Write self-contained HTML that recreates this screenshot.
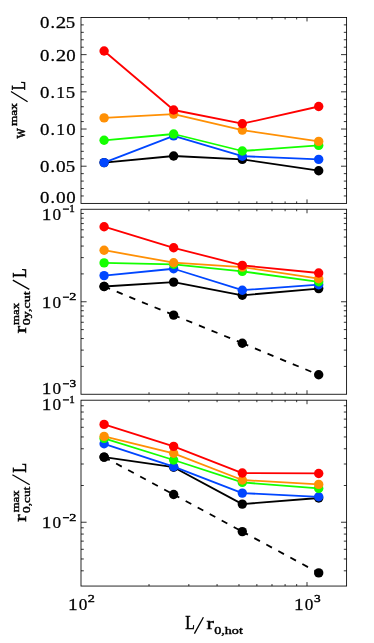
<!DOCTYPE html>
<html><head><meta charset="utf-8"><title>chart</title>
<style>html,body{margin:0;padding:0;background:#fff;}svg{display:block;}</style>
</head><body>
<svg width="374" height="643" viewBox="0 0 374 643">
<rect width="374" height="643" fill="#fff"/>
<g id="ticks">
<line x1="81.00" y1="54.64" x2="86.60" y2="54.64" stroke="#000" stroke-width="0.8"/>
<line x1="346.60" y1="54.64" x2="341.00" y2="54.64" stroke="#000" stroke-width="0.8"/>
<line x1="81.00" y1="91.83" x2="86.60" y2="91.83" stroke="#000" stroke-width="0.8"/>
<line x1="346.60" y1="91.83" x2="341.00" y2="91.83" stroke="#000" stroke-width="0.8"/>
<line x1="81.00" y1="129.02" x2="86.60" y2="129.02" stroke="#000" stroke-width="0.8"/>
<line x1="346.60" y1="129.02" x2="341.00" y2="129.02" stroke="#000" stroke-width="0.8"/>
<line x1="81.00" y1="166.21" x2="86.60" y2="166.21" stroke="#000" stroke-width="0.8"/>
<line x1="346.60" y1="166.21" x2="341.00" y2="166.21" stroke="#000" stroke-width="0.8"/>
<line x1="81.00" y1="24.89" x2="83.80" y2="24.89" stroke="#000" stroke-width="0.8"/>
<line x1="346.60" y1="24.89" x2="343.80" y2="24.89" stroke="#000" stroke-width="0.8"/>
<line x1="81.00" y1="32.33" x2="83.80" y2="32.33" stroke="#000" stroke-width="0.8"/>
<line x1="346.60" y1="32.33" x2="343.80" y2="32.33" stroke="#000" stroke-width="0.8"/>
<line x1="81.00" y1="39.76" x2="83.80" y2="39.76" stroke="#000" stroke-width="0.8"/>
<line x1="346.60" y1="39.76" x2="343.80" y2="39.76" stroke="#000" stroke-width="0.8"/>
<line x1="81.00" y1="47.20" x2="83.80" y2="47.20" stroke="#000" stroke-width="0.8"/>
<line x1="346.60" y1="47.20" x2="343.80" y2="47.20" stroke="#000" stroke-width="0.8"/>
<line x1="81.00" y1="62.08" x2="83.80" y2="62.08" stroke="#000" stroke-width="0.8"/>
<line x1="346.60" y1="62.08" x2="343.80" y2="62.08" stroke="#000" stroke-width="0.8"/>
<line x1="81.00" y1="69.52" x2="83.80" y2="69.52" stroke="#000" stroke-width="0.8"/>
<line x1="346.60" y1="69.52" x2="343.80" y2="69.52" stroke="#000" stroke-width="0.8"/>
<line x1="81.00" y1="76.95" x2="83.80" y2="76.95" stroke="#000" stroke-width="0.8"/>
<line x1="346.60" y1="76.95" x2="343.80" y2="76.95" stroke="#000" stroke-width="0.8"/>
<line x1="81.00" y1="84.39" x2="83.80" y2="84.39" stroke="#000" stroke-width="0.8"/>
<line x1="346.60" y1="84.39" x2="343.80" y2="84.39" stroke="#000" stroke-width="0.8"/>
<line x1="81.00" y1="99.27" x2="83.80" y2="99.27" stroke="#000" stroke-width="0.8"/>
<line x1="346.60" y1="99.27" x2="343.80" y2="99.27" stroke="#000" stroke-width="0.8"/>
<line x1="81.00" y1="106.71" x2="83.80" y2="106.71" stroke="#000" stroke-width="0.8"/>
<line x1="346.60" y1="106.71" x2="343.80" y2="106.71" stroke="#000" stroke-width="0.8"/>
<line x1="81.00" y1="114.14" x2="83.80" y2="114.14" stroke="#000" stroke-width="0.8"/>
<line x1="346.60" y1="114.14" x2="343.80" y2="114.14" stroke="#000" stroke-width="0.8"/>
<line x1="81.00" y1="121.58" x2="83.80" y2="121.58" stroke="#000" stroke-width="0.8"/>
<line x1="346.60" y1="121.58" x2="343.80" y2="121.58" stroke="#000" stroke-width="0.8"/>
<line x1="81.00" y1="136.46" x2="83.80" y2="136.46" stroke="#000" stroke-width="0.8"/>
<line x1="346.60" y1="136.46" x2="343.80" y2="136.46" stroke="#000" stroke-width="0.8"/>
<line x1="81.00" y1="143.90" x2="83.80" y2="143.90" stroke="#000" stroke-width="0.8"/>
<line x1="346.60" y1="143.90" x2="343.80" y2="143.90" stroke="#000" stroke-width="0.8"/>
<line x1="81.00" y1="151.33" x2="83.80" y2="151.33" stroke="#000" stroke-width="0.8"/>
<line x1="346.60" y1="151.33" x2="343.80" y2="151.33" stroke="#000" stroke-width="0.8"/>
<line x1="81.00" y1="158.77" x2="83.80" y2="158.77" stroke="#000" stroke-width="0.8"/>
<line x1="346.60" y1="158.77" x2="343.80" y2="158.77" stroke="#000" stroke-width="0.8"/>
<line x1="81.00" y1="173.65" x2="83.80" y2="173.65" stroke="#000" stroke-width="0.8"/>
<line x1="346.60" y1="173.65" x2="343.80" y2="173.65" stroke="#000" stroke-width="0.8"/>
<line x1="81.00" y1="181.09" x2="83.80" y2="181.09" stroke="#000" stroke-width="0.8"/>
<line x1="346.60" y1="181.09" x2="343.80" y2="181.09" stroke="#000" stroke-width="0.8"/>
<line x1="81.00" y1="188.52" x2="83.80" y2="188.52" stroke="#000" stroke-width="0.8"/>
<line x1="346.60" y1="188.52" x2="343.80" y2="188.52" stroke="#000" stroke-width="0.8"/>
<line x1="81.00" y1="195.96" x2="83.80" y2="195.96" stroke="#000" stroke-width="0.8"/>
<line x1="346.60" y1="195.96" x2="343.80" y2="195.96" stroke="#000" stroke-width="0.8"/>
<line x1="149.03" y1="17.45" x2="149.03" y2="19.45" stroke="#000" stroke-width="0.8"/>
<line x1="149.03" y1="203.40" x2="149.03" y2="201.40" stroke="#000" stroke-width="0.8"/>
<line x1="188.83" y1="17.45" x2="188.83" y2="19.45" stroke="#000" stroke-width="0.8"/>
<line x1="188.83" y1="203.40" x2="188.83" y2="201.40" stroke="#000" stroke-width="0.8"/>
<line x1="217.07" y1="17.45" x2="217.07" y2="19.45" stroke="#000" stroke-width="0.8"/>
<line x1="217.07" y1="203.40" x2="217.07" y2="201.40" stroke="#000" stroke-width="0.8"/>
<line x1="238.97" y1="17.45" x2="238.97" y2="19.45" stroke="#000" stroke-width="0.8"/>
<line x1="238.97" y1="203.40" x2="238.97" y2="201.40" stroke="#000" stroke-width="0.8"/>
<line x1="256.86" y1="17.45" x2="256.86" y2="19.45" stroke="#000" stroke-width="0.8"/>
<line x1="256.86" y1="203.40" x2="256.86" y2="201.40" stroke="#000" stroke-width="0.8"/>
<line x1="271.99" y1="17.45" x2="271.99" y2="19.45" stroke="#000" stroke-width="0.8"/>
<line x1="271.99" y1="203.40" x2="271.99" y2="201.40" stroke="#000" stroke-width="0.8"/>
<line x1="285.10" y1="17.45" x2="285.10" y2="19.45" stroke="#000" stroke-width="0.8"/>
<line x1="285.10" y1="203.40" x2="285.10" y2="201.40" stroke="#000" stroke-width="0.8"/>
<line x1="296.66" y1="17.45" x2="296.66" y2="19.45" stroke="#000" stroke-width="0.8"/>
<line x1="296.66" y1="203.40" x2="296.66" y2="201.40" stroke="#000" stroke-width="0.8"/>
<line x1="307.00" y1="17.45" x2="307.00" y2="21.45" stroke="#000" stroke-width="0.8"/>
<line x1="307.00" y1="203.40" x2="307.00" y2="199.40" stroke="#000" stroke-width="0.8"/>
<line x1="81.00" y1="301.75" x2="86.60" y2="301.75" stroke="#000" stroke-width="0.8"/>
<line x1="346.60" y1="301.75" x2="341.00" y2="301.75" stroke="#000" stroke-width="0.8"/>
<line x1="81.00" y1="273.90" x2="83.80" y2="273.90" stroke="#000" stroke-width="0.8"/>
<line x1="346.60" y1="273.90" x2="343.80" y2="273.90" stroke="#000" stroke-width="0.8"/>
<line x1="81.00" y1="257.62" x2="83.80" y2="257.62" stroke="#000" stroke-width="0.8"/>
<line x1="346.60" y1="257.62" x2="343.80" y2="257.62" stroke="#000" stroke-width="0.8"/>
<line x1="81.00" y1="246.06" x2="83.80" y2="246.06" stroke="#000" stroke-width="0.8"/>
<line x1="346.60" y1="246.06" x2="343.80" y2="246.06" stroke="#000" stroke-width="0.8"/>
<line x1="81.00" y1="237.10" x2="83.80" y2="237.10" stroke="#000" stroke-width="0.8"/>
<line x1="346.60" y1="237.10" x2="343.80" y2="237.10" stroke="#000" stroke-width="0.8"/>
<line x1="81.00" y1="229.77" x2="83.80" y2="229.77" stroke="#000" stroke-width="0.8"/>
<line x1="346.60" y1="229.77" x2="343.80" y2="229.77" stroke="#000" stroke-width="0.8"/>
<line x1="81.00" y1="223.58" x2="83.80" y2="223.58" stroke="#000" stroke-width="0.8"/>
<line x1="346.60" y1="223.58" x2="343.80" y2="223.58" stroke="#000" stroke-width="0.8"/>
<line x1="81.00" y1="218.21" x2="83.80" y2="218.21" stroke="#000" stroke-width="0.8"/>
<line x1="346.60" y1="218.21" x2="343.80" y2="218.21" stroke="#000" stroke-width="0.8"/>
<line x1="81.00" y1="213.48" x2="83.80" y2="213.48" stroke="#000" stroke-width="0.8"/>
<line x1="346.60" y1="213.48" x2="343.80" y2="213.48" stroke="#000" stroke-width="0.8"/>
<line x1="81.00" y1="366.40" x2="83.80" y2="366.40" stroke="#000" stroke-width="0.8"/>
<line x1="346.60" y1="366.40" x2="343.80" y2="366.40" stroke="#000" stroke-width="0.8"/>
<line x1="81.00" y1="350.12" x2="83.80" y2="350.12" stroke="#000" stroke-width="0.8"/>
<line x1="346.60" y1="350.12" x2="343.80" y2="350.12" stroke="#000" stroke-width="0.8"/>
<line x1="81.00" y1="338.56" x2="83.80" y2="338.56" stroke="#000" stroke-width="0.8"/>
<line x1="346.60" y1="338.56" x2="343.80" y2="338.56" stroke="#000" stroke-width="0.8"/>
<line x1="81.00" y1="329.60" x2="83.80" y2="329.60" stroke="#000" stroke-width="0.8"/>
<line x1="346.60" y1="329.60" x2="343.80" y2="329.60" stroke="#000" stroke-width="0.8"/>
<line x1="81.00" y1="322.27" x2="83.80" y2="322.27" stroke="#000" stroke-width="0.8"/>
<line x1="346.60" y1="322.27" x2="343.80" y2="322.27" stroke="#000" stroke-width="0.8"/>
<line x1="81.00" y1="316.08" x2="83.80" y2="316.08" stroke="#000" stroke-width="0.8"/>
<line x1="346.60" y1="316.08" x2="343.80" y2="316.08" stroke="#000" stroke-width="0.8"/>
<line x1="81.00" y1="310.71" x2="83.80" y2="310.71" stroke="#000" stroke-width="0.8"/>
<line x1="346.60" y1="310.71" x2="343.80" y2="310.71" stroke="#000" stroke-width="0.8"/>
<line x1="81.00" y1="305.98" x2="83.80" y2="305.98" stroke="#000" stroke-width="0.8"/>
<line x1="346.60" y1="305.98" x2="343.80" y2="305.98" stroke="#000" stroke-width="0.8"/>
<line x1="149.03" y1="209.25" x2="149.03" y2="211.25" stroke="#000" stroke-width="0.8"/>
<line x1="149.03" y1="394.25" x2="149.03" y2="392.25" stroke="#000" stroke-width="0.8"/>
<line x1="188.83" y1="209.25" x2="188.83" y2="211.25" stroke="#000" stroke-width="0.8"/>
<line x1="188.83" y1="394.25" x2="188.83" y2="392.25" stroke="#000" stroke-width="0.8"/>
<line x1="217.07" y1="209.25" x2="217.07" y2="211.25" stroke="#000" stroke-width="0.8"/>
<line x1="217.07" y1="394.25" x2="217.07" y2="392.25" stroke="#000" stroke-width="0.8"/>
<line x1="238.97" y1="209.25" x2="238.97" y2="211.25" stroke="#000" stroke-width="0.8"/>
<line x1="238.97" y1="394.25" x2="238.97" y2="392.25" stroke="#000" stroke-width="0.8"/>
<line x1="256.86" y1="209.25" x2="256.86" y2="211.25" stroke="#000" stroke-width="0.8"/>
<line x1="256.86" y1="394.25" x2="256.86" y2="392.25" stroke="#000" stroke-width="0.8"/>
<line x1="271.99" y1="209.25" x2="271.99" y2="211.25" stroke="#000" stroke-width="0.8"/>
<line x1="271.99" y1="394.25" x2="271.99" y2="392.25" stroke="#000" stroke-width="0.8"/>
<line x1="285.10" y1="209.25" x2="285.10" y2="211.25" stroke="#000" stroke-width="0.8"/>
<line x1="285.10" y1="394.25" x2="285.10" y2="392.25" stroke="#000" stroke-width="0.8"/>
<line x1="296.66" y1="209.25" x2="296.66" y2="211.25" stroke="#000" stroke-width="0.8"/>
<line x1="296.66" y1="394.25" x2="296.66" y2="392.25" stroke="#000" stroke-width="0.8"/>
<line x1="307.00" y1="209.25" x2="307.00" y2="213.25" stroke="#000" stroke-width="0.8"/>
<line x1="307.00" y1="394.25" x2="307.00" y2="390.25" stroke="#000" stroke-width="0.8"/>
<line x1="81.00" y1="522.24" x2="86.60" y2="522.24" stroke="#000" stroke-width="0.8"/>
<line x1="346.60" y1="522.24" x2="341.00" y2="522.24" stroke="#000" stroke-width="0.8"/>
<line x1="81.00" y1="485.50" x2="83.80" y2="485.50" stroke="#000" stroke-width="0.8"/>
<line x1="346.60" y1="485.50" x2="343.80" y2="485.50" stroke="#000" stroke-width="0.8"/>
<line x1="81.00" y1="464.01" x2="83.80" y2="464.01" stroke="#000" stroke-width="0.8"/>
<line x1="346.60" y1="464.01" x2="343.80" y2="464.01" stroke="#000" stroke-width="0.8"/>
<line x1="81.00" y1="448.76" x2="83.80" y2="448.76" stroke="#000" stroke-width="0.8"/>
<line x1="346.60" y1="448.76" x2="343.80" y2="448.76" stroke="#000" stroke-width="0.8"/>
<line x1="81.00" y1="436.94" x2="83.80" y2="436.94" stroke="#000" stroke-width="0.8"/>
<line x1="346.60" y1="436.94" x2="343.80" y2="436.94" stroke="#000" stroke-width="0.8"/>
<line x1="81.00" y1="427.27" x2="83.80" y2="427.27" stroke="#000" stroke-width="0.8"/>
<line x1="346.60" y1="427.27" x2="343.80" y2="427.27" stroke="#000" stroke-width="0.8"/>
<line x1="81.00" y1="419.10" x2="83.80" y2="419.10" stroke="#000" stroke-width="0.8"/>
<line x1="346.60" y1="419.10" x2="343.80" y2="419.10" stroke="#000" stroke-width="0.8"/>
<line x1="81.00" y1="412.03" x2="83.80" y2="412.03" stroke="#000" stroke-width="0.8"/>
<line x1="346.60" y1="412.03" x2="343.80" y2="412.03" stroke="#000" stroke-width="0.8"/>
<line x1="81.00" y1="405.78" x2="83.80" y2="405.78" stroke="#000" stroke-width="0.8"/>
<line x1="346.60" y1="405.78" x2="343.80" y2="405.78" stroke="#000" stroke-width="0.8"/>
<line x1="81.00" y1="570.80" x2="83.80" y2="570.80" stroke="#000" stroke-width="0.8"/>
<line x1="346.60" y1="570.80" x2="343.80" y2="570.80" stroke="#000" stroke-width="0.8"/>
<line x1="81.00" y1="558.98" x2="83.80" y2="558.98" stroke="#000" stroke-width="0.8"/>
<line x1="346.60" y1="558.98" x2="343.80" y2="558.98" stroke="#000" stroke-width="0.8"/>
<line x1="81.00" y1="549.31" x2="83.80" y2="549.31" stroke="#000" stroke-width="0.8"/>
<line x1="346.60" y1="549.31" x2="343.80" y2="549.31" stroke="#000" stroke-width="0.8"/>
<line x1="81.00" y1="541.14" x2="83.80" y2="541.14" stroke="#000" stroke-width="0.8"/>
<line x1="346.60" y1="541.14" x2="343.80" y2="541.14" stroke="#000" stroke-width="0.8"/>
<line x1="81.00" y1="534.07" x2="83.80" y2="534.07" stroke="#000" stroke-width="0.8"/>
<line x1="346.60" y1="534.07" x2="343.80" y2="534.07" stroke="#000" stroke-width="0.8"/>
<line x1="81.00" y1="527.82" x2="83.80" y2="527.82" stroke="#000" stroke-width="0.8"/>
<line x1="346.60" y1="527.82" x2="343.80" y2="527.82" stroke="#000" stroke-width="0.8"/>
<line x1="149.03" y1="400.20" x2="149.03" y2="402.20" stroke="#000" stroke-width="0.8"/>
<line x1="149.03" y1="586.05" x2="149.03" y2="584.05" stroke="#000" stroke-width="0.8"/>
<line x1="188.83" y1="400.20" x2="188.83" y2="402.20" stroke="#000" stroke-width="0.8"/>
<line x1="188.83" y1="586.05" x2="188.83" y2="584.05" stroke="#000" stroke-width="0.8"/>
<line x1="217.07" y1="400.20" x2="217.07" y2="402.20" stroke="#000" stroke-width="0.8"/>
<line x1="217.07" y1="586.05" x2="217.07" y2="584.05" stroke="#000" stroke-width="0.8"/>
<line x1="238.97" y1="400.20" x2="238.97" y2="402.20" stroke="#000" stroke-width="0.8"/>
<line x1="238.97" y1="586.05" x2="238.97" y2="584.05" stroke="#000" stroke-width="0.8"/>
<line x1="256.86" y1="400.20" x2="256.86" y2="402.20" stroke="#000" stroke-width="0.8"/>
<line x1="256.86" y1="586.05" x2="256.86" y2="584.05" stroke="#000" stroke-width="0.8"/>
<line x1="271.99" y1="400.20" x2="271.99" y2="402.20" stroke="#000" stroke-width="0.8"/>
<line x1="271.99" y1="586.05" x2="271.99" y2="584.05" stroke="#000" stroke-width="0.8"/>
<line x1="285.10" y1="400.20" x2="285.10" y2="402.20" stroke="#000" stroke-width="0.8"/>
<line x1="285.10" y1="586.05" x2="285.10" y2="584.05" stroke="#000" stroke-width="0.8"/>
<line x1="296.66" y1="400.20" x2="296.66" y2="402.20" stroke="#000" stroke-width="0.8"/>
<line x1="296.66" y1="586.05" x2="296.66" y2="584.05" stroke="#000" stroke-width="0.8"/>
<line x1="307.00" y1="400.20" x2="307.00" y2="404.20" stroke="#000" stroke-width="0.8"/>
<line x1="307.00" y1="586.05" x2="307.00" y2="582.05" stroke="#000" stroke-width="0.8"/>
</g>
<g id="frames" fill="none" stroke="#000" stroke-width="0.85">
<rect x="81.00" y="17.45" width="265.60" height="185.95"/>
<rect x="81.00" y="209.25" width="265.60" height="185.00"/>
<rect x="81.00" y="400.20" width="265.60" height="185.85"/>
</g>
<g id="data">
<polyline fill="none" stroke="#000000" stroke-width="1.8" stroke-linejoin="round" points="104.10,162.60 173.65,156.00 242.30,159.40 318.70,170.70"/>
<circle cx="104.10" cy="162.60" r="4.7" fill="#000000"/>
<circle cx="173.65" cy="156.00" r="4.7" fill="#000000"/>
<circle cx="242.30" cy="159.40" r="4.7" fill="#000000"/>
<circle cx="318.70" cy="170.70" r="4.7" fill="#000000"/>
<polyline fill="none" stroke="#0046ff" stroke-width="1.8" stroke-linejoin="round" points="104.10,162.60 173.65,135.90 242.30,156.20 318.70,159.40"/>
<circle cx="104.10" cy="162.60" r="4.7" fill="#0046ff"/>
<circle cx="173.65" cy="135.90" r="4.7" fill="#0046ff"/>
<circle cx="242.30" cy="156.20" r="4.7" fill="#0046ff"/>
<circle cx="318.70" cy="159.40" r="4.7" fill="#0046ff"/>
<polyline fill="none" stroke="#14ff00" stroke-width="1.8" stroke-linejoin="round" points="104.10,140.30 173.65,134.00 242.30,151.00 318.70,145.40"/>
<circle cx="104.10" cy="140.30" r="4.7" fill="#14ff00"/>
<circle cx="173.65" cy="134.00" r="4.7" fill="#14ff00"/>
<circle cx="242.30" cy="151.00" r="4.7" fill="#14ff00"/>
<circle cx="318.70" cy="145.40" r="4.7" fill="#14ff00"/>
<polyline fill="none" stroke="#ff9005" stroke-width="1.8" stroke-linejoin="round" points="104.10,117.90 173.65,114.10 242.30,130.10 318.70,141.40"/>
<circle cx="104.10" cy="117.90" r="4.7" fill="#ff9005"/>
<circle cx="173.65" cy="114.10" r="4.7" fill="#ff9005"/>
<circle cx="242.30" cy="130.10" r="4.7" fill="#ff9005"/>
<circle cx="318.70" cy="141.40" r="4.7" fill="#ff9005"/>
<polyline fill="none" stroke="#ff0000" stroke-width="1.8" stroke-linejoin="round" points="104.10,50.95 173.65,110.00 242.30,123.70 318.70,106.50"/>
<circle cx="104.10" cy="50.95" r="4.7" fill="#ff0000"/>
<circle cx="173.65" cy="110.00" r="4.7" fill="#ff0000"/>
<circle cx="242.30" cy="123.70" r="4.7" fill="#ff0000"/>
<circle cx="318.70" cy="106.50" r="4.7" fill="#ff0000"/>
<line x1="104.10" y1="286.50" x2="173.65" y2="315.10" stroke="#000000" stroke-width="1.8" stroke-dasharray="6.4 7.25"/>
<line x1="173.65" y1="315.10" x2="242.30" y2="343.20" stroke="#000000" stroke-width="1.8" stroke-dasharray="6.4 7.25"/>
<line x1="242.30" y1="343.20" x2="318.70" y2="374.80" stroke="#000000" stroke-width="1.8" stroke-dasharray="6.4 7.25"/>
<circle cx="104.10" cy="286.50" r="4.7" fill="#000000"/>
<circle cx="173.65" cy="315.10" r="4.7" fill="#000000"/>
<circle cx="242.30" cy="343.20" r="4.7" fill="#000000"/>
<circle cx="318.70" cy="374.80" r="4.7" fill="#000000"/>
<polyline fill="none" stroke="#000000" stroke-width="1.8" stroke-linejoin="round" points="104.10,286.50 173.65,282.10 242.30,295.30 318.70,288.60"/>
<circle cx="104.10" cy="286.50" r="4.7" fill="#000000"/>
<circle cx="173.65" cy="282.10" r="4.7" fill="#000000"/>
<circle cx="242.30" cy="295.30" r="4.7" fill="#000000"/>
<circle cx="318.70" cy="288.60" r="4.7" fill="#000000"/>
<polyline fill="none" stroke="#0046ff" stroke-width="1.8" stroke-linejoin="round" points="104.10,275.60 173.65,268.75 242.30,290.20 318.70,284.70"/>
<circle cx="104.10" cy="275.60" r="4.7" fill="#0046ff"/>
<circle cx="173.65" cy="268.75" r="4.7" fill="#0046ff"/>
<circle cx="242.30" cy="290.20" r="4.7" fill="#0046ff"/>
<circle cx="318.70" cy="284.70" r="4.7" fill="#0046ff"/>
<polyline fill="none" stroke="#14ff00" stroke-width="1.8" stroke-linejoin="round" points="104.10,262.90 173.65,264.30 242.30,271.40 318.70,281.80"/>
<circle cx="104.10" cy="262.90" r="4.7" fill="#14ff00"/>
<circle cx="173.65" cy="264.30" r="4.7" fill="#14ff00"/>
<circle cx="242.30" cy="271.40" r="4.7" fill="#14ff00"/>
<circle cx="318.70" cy="281.80" r="4.7" fill="#14ff00"/>
<polyline fill="none" stroke="#ff9005" stroke-width="1.8" stroke-linejoin="round" points="104.10,250.20 173.65,262.70 242.30,267.10 318.70,278.70"/>
<circle cx="104.10" cy="250.20" r="4.7" fill="#ff9005"/>
<circle cx="173.65" cy="262.70" r="4.7" fill="#ff9005"/>
<circle cx="242.30" cy="267.10" r="4.7" fill="#ff9005"/>
<circle cx="318.70" cy="278.70" r="4.7" fill="#ff9005"/>
<polyline fill="none" stroke="#ff0000" stroke-width="1.8" stroke-linejoin="round" points="104.10,226.70 173.65,247.80 242.30,265.40 318.70,273.00"/>
<circle cx="104.10" cy="226.70" r="4.7" fill="#ff0000"/>
<circle cx="173.65" cy="247.80" r="4.7" fill="#ff0000"/>
<circle cx="242.30" cy="265.40" r="4.7" fill="#ff0000"/>
<circle cx="318.70" cy="273.00" r="4.7" fill="#ff0000"/>
<line x1="104.10" y1="457.10" x2="173.65" y2="494.50" stroke="#000000" stroke-width="1.8" stroke-dasharray="6.4 7.25"/>
<line x1="173.65" y1="494.50" x2="242.30" y2="531.60" stroke="#000000" stroke-width="1.8" stroke-dasharray="6.4 7.25"/>
<line x1="242.30" y1="531.60" x2="318.70" y2="572.90" stroke="#000000" stroke-width="1.8" stroke-dasharray="6.4 7.25"/>
<circle cx="104.10" cy="457.10" r="4.7" fill="#000000"/>
<circle cx="173.65" cy="494.50" r="4.7" fill="#000000"/>
<circle cx="242.30" cy="531.60" r="4.7" fill="#000000"/>
<circle cx="318.70" cy="572.90" r="4.7" fill="#000000"/>
<polyline fill="none" stroke="#000000" stroke-width="1.8" stroke-linejoin="round" points="104.10,457.10 173.65,467.20 242.30,504.10 318.70,498.00"/>
<circle cx="104.10" cy="457.10" r="4.7" fill="#000000"/>
<circle cx="173.65" cy="467.20" r="4.7" fill="#000000"/>
<circle cx="242.30" cy="504.10" r="4.7" fill="#000000"/>
<circle cx="318.70" cy="498.00" r="4.7" fill="#000000"/>
<polyline fill="none" stroke="#0046ff" stroke-width="1.8" stroke-linejoin="round" points="104.10,443.80 173.65,466.70 242.30,493.10 318.70,496.80"/>
<circle cx="104.10" cy="443.80" r="4.7" fill="#0046ff"/>
<circle cx="173.65" cy="466.70" r="4.7" fill="#0046ff"/>
<circle cx="242.30" cy="493.10" r="4.7" fill="#0046ff"/>
<circle cx="318.70" cy="496.80" r="4.7" fill="#0046ff"/>
<polyline fill="none" stroke="#14ff00" stroke-width="1.8" stroke-linejoin="round" points="104.10,438.40 173.65,460.00 242.30,482.40 318.70,488.40"/>
<circle cx="104.10" cy="438.40" r="4.7" fill="#14ff00"/>
<circle cx="173.65" cy="460.00" r="4.7" fill="#14ff00"/>
<circle cx="242.30" cy="482.40" r="4.7" fill="#14ff00"/>
<circle cx="318.70" cy="488.40" r="4.7" fill="#14ff00"/>
<polyline fill="none" stroke="#ff9005" stroke-width="1.8" stroke-linejoin="round" points="104.10,436.40 173.65,453.30 242.30,480.00 318.70,484.40"/>
<circle cx="104.10" cy="436.40" r="4.7" fill="#ff9005"/>
<circle cx="173.65" cy="453.30" r="4.7" fill="#ff9005"/>
<circle cx="242.30" cy="480.00" r="4.7" fill="#ff9005"/>
<circle cx="318.70" cy="484.40" r="4.7" fill="#ff9005"/>
<polyline fill="none" stroke="#ff0000" stroke-width="1.8" stroke-linejoin="round" points="104.10,424.40 173.65,446.40 242.30,473.05 318.70,473.45"/>
<circle cx="104.10" cy="424.40" r="4.7" fill="#ff0000"/>
<circle cx="173.65" cy="446.40" r="4.7" fill="#ff0000"/>
<circle cx="242.30" cy="473.05" r="4.7" fill="#ff0000"/>
<circle cx="318.70" cy="473.45" r="4.7" fill="#ff0000"/>
</g>
<g id="labels" opacity="0.999" font-family="'Liberation Serif', serif" fill="#000" stroke="#000" stroke-width="0.25">
<text transform="translate(39.88 28.40) scale(1.130 1.000)" font-size="16.7">0</text>
<text transform="translate(50.53 28.40) scale(1.066 1.000)" font-size="16.7">.</text>
<text transform="translate(55.78 28.40) scale(1.254 1.000)" font-size="16.7">2</text>
<text transform="translate(65.81 28.40) scale(1.129 1.000)" font-size="16.7">5</text>
<text transform="translate(39.88 60.70) scale(1.130 1.000)" font-size="16.7">0</text>
<text transform="translate(50.53 60.70) scale(1.066 1.000)" font-size="16.7">.</text>
<text transform="translate(55.78 60.70) scale(1.254 1.000)" font-size="16.7">2</text>
<text transform="translate(66.18 60.70) scale(1.130 1.000)" font-size="16.7">0</text>
<text transform="translate(39.88 97.55) scale(1.130 1.000)" font-size="16.7">0</text>
<text transform="translate(50.53 97.55) scale(1.066 1.000)" font-size="16.7">.</text>
<text transform="translate(56.35 97.55) scale(1.055 1.000)" font-size="16.7">1</text>
<text transform="translate(65.81 97.55) scale(1.129 1.000)" font-size="16.7">5</text>
<text transform="translate(39.88 134.80) scale(1.130 1.000)" font-size="16.7">0</text>
<text transform="translate(50.53 134.80) scale(1.066 1.000)" font-size="16.7">.</text>
<text transform="translate(56.35 134.80) scale(1.055 1.000)" font-size="16.7">1</text>
<text transform="translate(66.18 134.80) scale(1.130 1.000)" font-size="16.7">0</text>
<text transform="translate(39.88 172.10) scale(1.130 1.000)" font-size="16.7">0</text>
<text transform="translate(50.53 172.10) scale(1.066 1.000)" font-size="16.7">.</text>
<text transform="translate(55.97 172.10) scale(1.158 1.000)" font-size="16.7">0</text>
<text transform="translate(65.81 172.10) scale(1.129 1.000)" font-size="16.7">5</text>
<text transform="translate(39.88 203.10) scale(1.130 1.000)" font-size="16.7">0</text>
<text transform="translate(50.53 203.10) scale(1.066 1.000)" font-size="16.7">.</text>
<text transform="translate(55.97 203.10) scale(1.158 1.000)" font-size="16.7">0</text>
<text transform="translate(66.18 203.10) scale(1.130 1.000)" font-size="16.7">0</text>
<text transform="translate(41.80 219.50) scale(1.157 1.000)" font-size="16.7">1</text>
<text transform="translate(52.55 219.50) scale(1.031 1.000)" font-size="16.7">0</text>
<line x1="62.90" y1="209.10" x2="69.00" y2="209.10" stroke="#000" stroke-width="1.3"/>
<text transform="translate(69.22 212.00) scale(0.989 1.000)" font-size="11.2" stroke-width="0.4">1</text>
<text transform="translate(41.80 307.60) scale(1.157 1.000)" font-size="16.7">1</text>
<text transform="translate(52.55 307.60) scale(1.031 1.000)" font-size="16.7">0</text>
<line x1="62.90" y1="297.20" x2="69.00" y2="297.20" stroke="#000" stroke-width="1.3"/>
<text transform="translate(69.27 300.10) scale(1.269 1.000)" font-size="11.2" stroke-width="0.4">2</text>
<text transform="translate(41.80 394.20) scale(1.157 1.000)" font-size="16.7">1</text>
<text transform="translate(52.55 394.20) scale(1.031 1.000)" font-size="16.7">0</text>
<line x1="62.90" y1="383.80" x2="69.00" y2="383.80" stroke="#000" stroke-width="1.3"/>
<text transform="translate(69.46 386.70) scale(1.189 1.000)" font-size="11.2" stroke-width="0.4">3</text>
<text transform="translate(41.80 410.30) scale(1.157 1.000)" font-size="16.7">1</text>
<text transform="translate(52.55 410.30) scale(1.031 1.000)" font-size="16.7">0</text>
<line x1="62.90" y1="399.90" x2="69.00" y2="399.90" stroke="#000" stroke-width="1.3"/>
<text transform="translate(69.22 402.80) scale(0.989 1.000)" font-size="11.2" stroke-width="0.4">1</text>
<text transform="translate(41.80 528.10) scale(1.157 1.000)" font-size="16.7">1</text>
<text transform="translate(52.55 528.10) scale(1.031 1.000)" font-size="16.7">0</text>
<line x1="62.90" y1="517.70" x2="69.00" y2="517.70" stroke="#000" stroke-width="1.3"/>
<text transform="translate(69.27 520.60) scale(1.269 1.000)" font-size="11.2" stroke-width="0.4">2</text>
<text transform="translate(68.00 609.70) scale(1.157 1.000)" font-size="16.7">1</text>
<text transform="translate(78.75 609.70) scale(1.031 1.000)" font-size="16.7">0</text>
<text transform="translate(87.87 601.80) scale(1.269 1.000)" font-size="11.2" stroke-width="0.4">2</text>
<text transform="translate(293.90 609.80) scale(1.157 1.000)" font-size="16.7">1</text>
<text transform="translate(304.65 609.80) scale(1.031 1.000)" font-size="16.7">0</text>
<text transform="translate(313.96 601.90) scale(1.189 1.000)" font-size="11.2" stroke-width="0.4">3</text>
<text transform="translate(185.14 629.30) scale(0.941 1.090)" font-size="16.7" stroke-width="0.5">L</text>
<line x1="194.40" y1="633.60" x2="203.40" y2="617.30" stroke="#000" stroke-width="1.3"/>
<text transform="translate(206.46 629.30) scale(1.320 1.000)" font-size="16.7" stroke-width="0.5">r</text>
<text transform="translate(214.16 633.90) scale(1.336 1.000)" font-size="10.6" stroke-width="0.4">0,hot</text>
<g transform="translate(24.60 138.50) rotate(-90)">
<text transform="translate(0.09 0.00) scale(0.852 1.000)" font-size="16.7" stroke-width="0.5">w</text>
<text transform="translate(12.52 -7.40) scale(1.251 1.000)" font-size="10.6" stroke-width="0.4">max</text>
<line x1="36.80" y1="3.00" x2="47.00" y2="-13.60" stroke="#000" stroke-width="1.3"/>
<text transform="translate(48.17 0.00) scale(0.895 1.090)" font-size="16.7" stroke-width="0.5">L</text>
</g>
<g transform="translate(25.80 333.00) rotate(-90)">
<text transform="translate(-0.35 0.00) scale(1.339 1.000)" font-size="16.7" stroke-width="0.5">r</text>
<text transform="translate(7.93 -6.90) scale(1.218 1.000)" font-size="10.6" stroke-width="0.4">max</text>
<text transform="translate(7.66 3.90) scale(1.337 1.000)" font-size="10.6" stroke-width="0.4">0y,cut</text>
<line x1="43.60" y1="3.50" x2="52.90" y2="-13.00" stroke="#000" stroke-width="1.3"/>
<text transform="translate(55.16 0.00) scale(0.918 1.090)" font-size="16.7" stroke-width="0.5">L</text>
</g>
<g transform="translate(26.00 521.40) rotate(-90)">
<text transform="translate(-0.35 0.00) scale(1.339 1.000)" font-size="16.7" stroke-width="0.5">r</text>
<text transform="translate(9.03 -7.20) scale(1.212 1.000)" font-size="10.6" stroke-width="0.4">max</text>
<text transform="translate(8.39 4.00) scale(1.262 1.000)" font-size="10.6" stroke-width="0.4">0,cut</text>
<line x1="36.70" y1="3.70" x2="46.70" y2="-13.60" stroke="#000" stroke-width="1.3"/>
<text transform="translate(48.53 0.00) scale(0.964 1.090)" font-size="16.7" stroke-width="0.5">L</text>
</g>
</g>
</svg>
</body></html>
